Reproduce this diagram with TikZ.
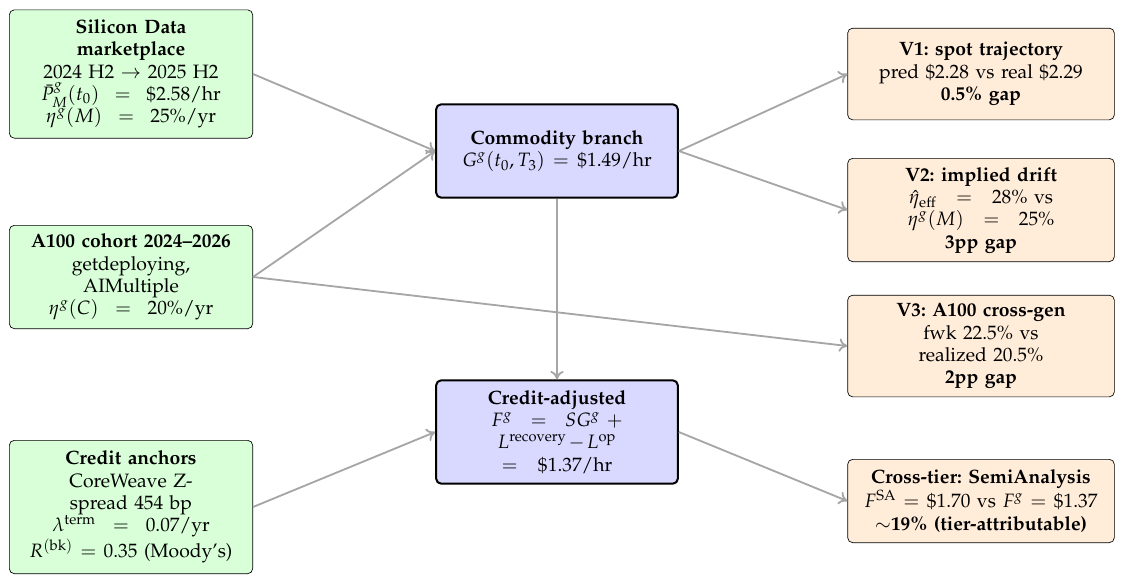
\documentclass[tikz,border=0pt]{standalone}
\usepackage[T1]{fontenc}
\usepackage{mathpazo}
\usetikzlibrary{arrows.meta}
\begin{document}
\begin{tikzpicture}[x=0.6pt,y=-0.6pt,
 box/.style={draw=black,rounded corners=3pt,align=center,inner sep=2pt,font=\fontsize{11.6}{13.4}\selectfont},
 src/.style={box,fill=green!15,thin,text width=138pt,minimum width=146pt},
 mid/.style={box,fill=blue!15,line width=1.2pt,text width=136pt,minimum width=145pt},
 val/.style={box,fill=orange!15,thin,text width=154pt,minimum width=160pt},
 arr/.style={draw=black!35,line width=1.1pt,-{To[length=5pt,width=8pt]}}]
\useasboundingbox (0,0) rectangle (1124,583);
\node[src,minimum height=77pt] (si) at (131,74) {\textbf{Silicon Data}\\\textbf{marketplace}\\2024 H2 $\rightarrow$ 2025 H2\\$\bar P^{g}_{M}(t_0)\ =\ \$2.58$/hr\\$\eta^{g}(M)\ =\ 25\%$/yr};
\node[src,minimum height=62pt] (a1) at (131,277) {\textbf{A100 cohort 2024--2026}\\getdeploying,\\AIMultiple\\$\eta^{g}(C)\ =\ 20\%$/yr};
\node[src,minimum height=80pt] (ca) at (131,507) {\textbf{Credit anchors}\\CoreWeave Z-\\spread 454 bp\\$\lambda^{\mathrm{term}}\ =\ 0.07$/yr\\$R^{(\mathrm{bk})}=0.35$ (Moody's)};
\node[mid,minimum height=56pt] (cb) at (557,151) {\textbf{Commodity branch}\\$G^{g}(t_0,T_3)=\$1.49$/hr};
\node[mid,minimum height=62pt] (cr) at (557,432) {\textbf{Credit-adjusted}\\$F^{g}\ =\ SG^{g}\ +$\\$L^{\mathrm{recovery}}\!-\!L^{\mathrm{op}}$\\$=\ \$1.37$/hr};
\node[val,minimum height=55pt] (v1) at (981,74) {\textbf{V1:\ spot trajectory}\\pred \$2.28 vs real \$2.29\\\textbf{0.5\% gap}};
\node[val,minimum height=62pt] (v2) at (981,210) {\textbf{V2:\ implied drift}\\$\hat\eta_{\mathrm{eff}}\ =\ 28\%$ vs\\$\eta^{g}(M)\ =\ 25\%$\\\textbf{3pp gap}};
\node[val,minimum height=61pt] (v3) at (981,346) {\textbf{V3:\ A100 cross-gen}\\fwk 22.5\% vs\\realized 20.5\%\\\textbf{2pp gap}};
\node[val,minimum height=50pt] (ct) at (981,501) {\textbf{Cross-tier:\ SemiAnalysis}\\$F^{\mathrm{SA}}=\$1.70$ vs $F^{g}=\$1.37$\\$\sim$\textbf{19\% (tier-attributable)}};
\draw[arr] (si.east) -- (cb.west);
\draw[arr] (a1.east) -- (cb.west);
\draw[arr] (a1.east) -- (v3.west);
\draw[arr] (ca.east) -- (cr.west);
\draw[arr] (cb.east) -- (v1.west);
\draw[arr] (cb.east) -- (v2.west);
\draw[arr] (cb.south) -- (cr.north);
\draw[arr] (cr.east) -- (ct.west);
\end{tikzpicture}
\end{document}
